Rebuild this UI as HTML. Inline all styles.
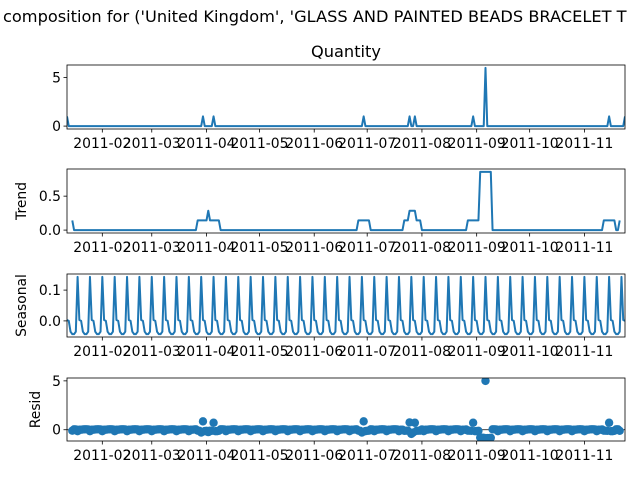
<!DOCTYPE html>
<html><head><meta charset="utf-8"><style>
body{margin:0;background:#fff}
svg{display:block;font-family:"DejaVu Sans","Liberation Sans",sans-serif}
</style></head><body>
<svg id="fig" width="640" height="480" viewBox="0 0 640 480" xmlns="http://www.w3.org/2000/svg">
<text x="3" y="22" font-size="16.2">composition for ('United Kingdom', 'GLASS AND PAINTED BEADS BRACELET T</text>
<text x="346" y="57" font-size="16.2" text-anchor="middle">Quantity</text>
</svg>
<script>
// day 0 = 2011-01-12, daily data to day 316
const nDays = 317;
const spikeDays = [0, 77, 83, 168, 194, 197, 230, 237, 307, 316];
const spikeValues = [1, 1, 1, 1, 1, 1, 1, 6, 1, 1];
const seasonalPattern = [0.003, 0.0, -0.035, -0.043, -0.043, -0.035, 0.143]; // by day mod 7
const monthTickDays = [20, 48, 79, 109, 140, 170, 201, 232, 262, 293];
const monthTickLabels = ["2011-02","2011-03","2011-04","2011-05","2011-06","2011-07","2011-08","2011-09","2011-10","2011-11"];
const quantityTicks = [0, 5];
const trendTicks = [0.0, 0.5];
const seasonalTicks = [0.0, 0.1];
const residTicks = [0, 5];

const quantity = new Array(nDays).fill(0);
spikeDays.forEach((d,i)=>{quantity[d]=spikeValues[i];});
const trend = quantity.map((_,i)=>{if(i<3||i>nDays-4)return null;let s=0;for(let k=i-3;k<=i+3;k++)s+=quantity[k];return s/7;});
const seasonal = quantity.map((_,i)=>seasonalPattern[i%7]);
const resid = quantity.map((q,i)=>trend[i]===null?null:q-trend[i]-seasonal[i]);

const NS="http://www.w3.org/2000/svg";
const svg=document.getElementById('fig');
const X0=67,X1=625;
const xs=d=>X0+(d/(nDays-1))*(X1-X0);
function el(t,a,p){const e=document.createElementNS(NS,t);for(const k in a)e.setAttribute(k,a[k]);(p||svg).appendChild(e);return e;}

function panel(name,data,top,bot,ticks,ylabel,dots){
  const vals=data.filter(v=>v!==null);
  let mn=Math.min(...vals),mx=Math.max(...vals);const pad=(mx-mn)*0.05;mn-=pad;mx+=pad;
  const ys=v=>bot-(v-mn)/(mx-mn)*(bot-top);
  const g=el('g',{});
  
  
  const cid='clip-'+name;
  const cp=el('clipPath',{id:cid},g);el('rect',{x:X0,y:top,width:X1-X0,height:bot-top},cp);
  if(dots){
    const z=el('line',{x1:X0,x2:X1,y1:ys(0),y2:ys(0),stroke:'#000','stroke-width':0.8},g);
    
    
    data.forEach((v,i)=>{if(v===null)return;const c=el('circle',{cx:xs(i),cy:ys(v),r:4.2,fill:'#1f77b4','clip-path':'url(#'+cid+')'},g);
      
      });
  }else{
    const pts=[];data.forEach((v,i)=>{if(v!==null)pts.push(xs(i).toFixed(2)+','+ys(v).toFixed(2));});
    const p=el('polyline',{points:pts.join(' '),fill:'none',stroke:'#1f77b4','stroke-width':2,'stroke-linejoin':'round','clip-path':'url(#'+cid+')'},g);
    
    
  }
  const fr=el('rect',{x:X0,y:top,width:X1-X0,height:bot-top,fill:'none',stroke:'#000','stroke-width':0.8},g);
  
  
  ticks.forEach(t=>{const y=ys(t);el('line',{x1:X0-3.5,x2:X0,y1:y,y2:y,stroke:'#000','stroke-width':0.8},g);
    const tx=el('text',{x:X0-6,y:y+5,'font-size':13.9,'text-anchor':'end'},g);tx.textContent=(name==='trend'||name==='seasonal')?t.toFixed(1):String(t);
    
    });
  monthTickDays.forEach((d,i)=>{const x=xs(d);el('line',{x1:x,x2:x,y1:bot,y2:bot+3.5,stroke:'#000','stroke-width':0.8},g);
    const tx=el('text',{x:x,y:bot+19,'font-size':13.9,'text-anchor':'middle'},g);tx.textContent=monthTickLabels[i];
    
    });
  if(ylabel){const yl=el('text',{x:0,y:0,'font-size':13.9,'text-anchor':'middle',transform:'translate('+(ylabel[1])+','+((top+bot)/2)+') rotate(-90)'},g);yl.textContent=ylabel[0];
    
    }
}
panel('quantity',quantity,65,129,quantityTicks,null,false);
panel('trend',trend,169,233,trendTicks,['Trend',26],false);
panel('seasonal',seasonal,274,337,seasonalTicks,['Seasonal',26],false);
panel('resid',resid,378,441,residTicks,['Resid',40],true);
</script>
</body></html>
